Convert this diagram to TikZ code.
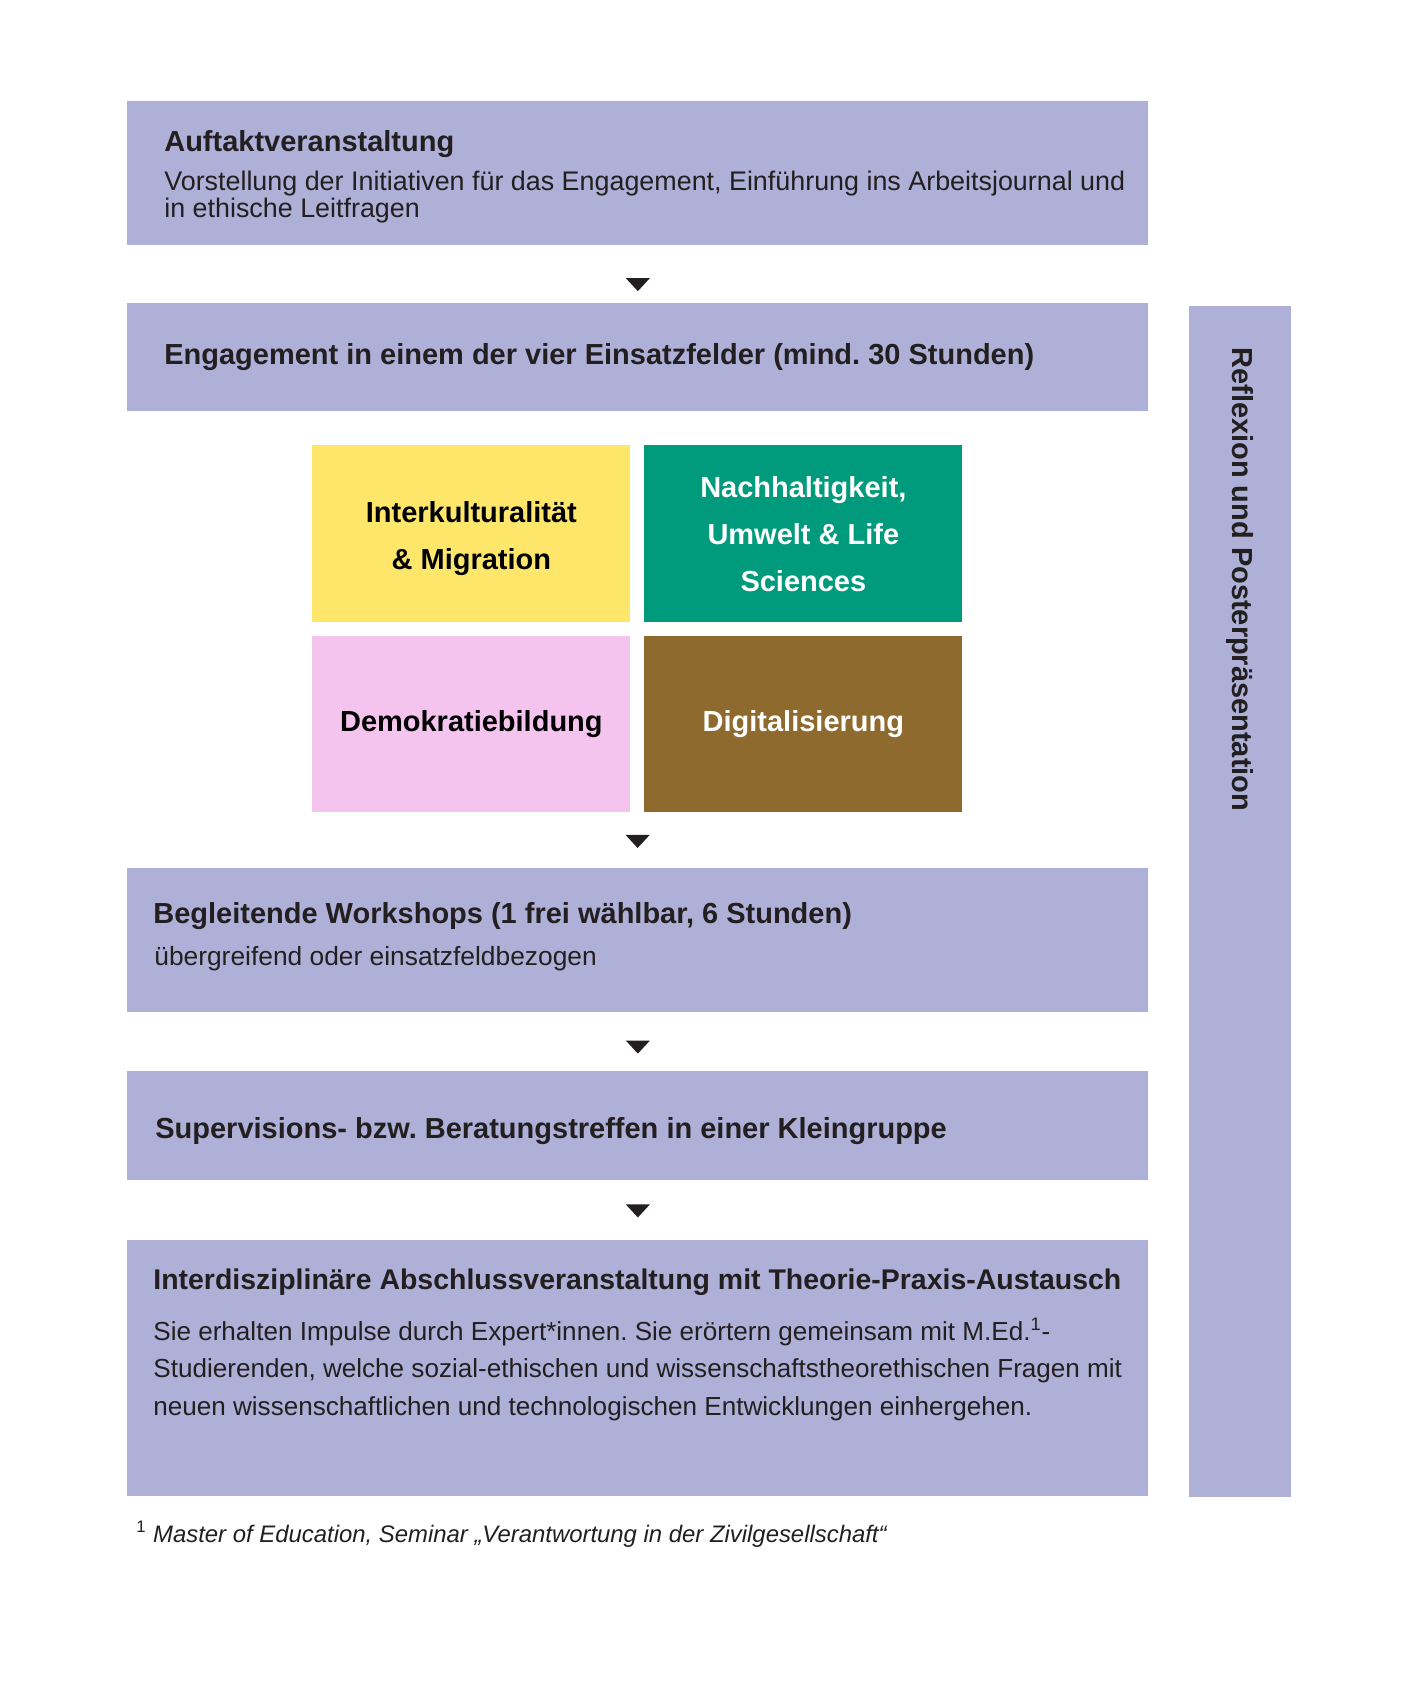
\documentclass[tikz,border=0pt]{standalone}
\usepackage{fontspec}
\setmainfont{Liberation Sans}
\usetikzlibrary{calc}
\frenchspacing

\definecolor{lav}{RGB}{175,176,216}
\definecolor{ink}{RGB}{35,31,32}
\definecolor{gelb}{RGB}{253,230,106}
\definecolor{gruen}{RGB}{0,154,124}
\definecolor{rosa}{RGB}{244,195,238}
\definecolor{braun}{RGB}{142,106,47}

\newcommand{\pxu}{0.02cm}

\begin{document}
\begin{tikzpicture}[x=0.02cm, y=-0.02cm,
    box/.style={anchor=north west, fill=lav, inner sep=0pt, minimum width=1021*\pxu},
    feld/.style={anchor=north west, inner sep=0pt, minimum width=318*\pxu, minimum height=177*\pxu},
    feldtext/.style={align=center, inner sep=0pt, font=\fontsize{16.5}{26.75}\selectfont\bfseries},
    titel/.style={anchor=base west, inner sep=0pt, text=ink, font=\fontsize{16.5}{18}\selectfont\bfseries},
    fliess/.style={anchor=base west, inner sep=0pt, text=ink, align=left}]
  \useasboundingbox (0,0) rectangle (1400,1700);

  % boxes
  \node[box, minimum height=144*\pxu] (auftakt) at (127,101) {};
  \node[box, minimum height=108*\pxu] (engagement) at (127,303) {};
  \node[feld, fill=gelb] (inter) at (312,445) {};
  \node[feld, fill=gruen] (nachhalt) at (644,445) {};
  \node[feld, fill=rosa, minimum height=176*\pxu] (demo) at (312,636) {};
  \node[feld, fill=braun, minimum height=176*\pxu] (digi) at (644,636) {};
  \node[box, minimum height=144*\pxu] (workshops) at (127,868) {};
  \node[box, minimum height=109*\pxu] (supervision) at (127,1071) {};
  \node[box, minimum height=256*\pxu] (abschluss) at (127,1240) {};
  \node[box, minimum width=102*\pxu, minimum height=1191*\pxu] (reflexion) at (1189,306) {};

  % texts (multi-line nodes sit on their last baseline)
  \node[titel] (auftakt-t) at (164,152) {Auftaktveranstaltung};
  \node[fliess, font=\fontsize{15.3}{15.2}\selectfont] (auftakt-b) at (164,217)
    {Vorstellung der Initiativen für das Engagement, Einführung ins Arbeitsjournal und\\in ethische Leitfragen};
  \node[titel] (engagement-t) at (164,364) {Engagement in einem der vier Einsatzfelder (mind. 30 Stunden)};
  \node[feldtext] (inter-t) at ($(inter.center)+(0,5)$) {Interkulturalität\\\& Migration};
  \node[feldtext, text=white] (nachhalt-t) at (nachhalt.center) {Nachhaltigkeit,\\Umwelt \& Life\\Sciences};
  \node[feldtext] (demo-t) at (demo.center) {Demokratiebildung};
  \node[feldtext, text=white] (digi-t) at (digi.center) {Digitalisierung};
  \node[titel] (workshops-t) at (153,923) {Begleitende Workshops (1 frei wählbar, 6 Stunden)};
  \node[fliess, font=\fontsize{15}{16}\selectfont] (workshops-b) at (154,965) {übergreifend oder einsatzfeldbezogen};
  \node[titel] (supervision-t) at (155,1138) {Supervisions- bzw. Beratungstreffen in einer Kleingruppe};
  \node[titel, font=\fontsize{16.2}{18}\selectfont\bfseries] (abschluss-t) at (153,1289) {Interdisziplinäre Abschlussveranstaltung mit Theorie-Praxis-Austausch};
  \node[fliess, font=\fontsize{14.85}{21.3}\selectfont] (abschluss-b) at (153,1415)
    {Sie erhalten Impulse durch Expert*innen. Sie erörtern gemeinsam mit M.Ed.\textsuperscript{1}-\\
     Studierenden, welche sozial-ethischen und wissenschaftstheorethischen Fragen mit\\
     neuen wissenschaftlichen und technologischen Entwicklungen einhergehen.};
  \node[titel, rotate=-90, font=\fontsize{16.5}{18}\selectfont\bfseries] (reflexion-t) at (1232,347) {Reflexion und Posterpräsentation};
  \node[fliess, font=\fontsize{13.6}{16}\selectfont] (fussnote) at (136,1542)
    {\textsuperscript{1} \textit{Master of Education, Seminar „Verantwortung in der Zivilgesellschaft“}};

  % arrows
  \coordinate (feldmitte) at ($(demo.south east)!0.5!(digi.south west)$);
  \path (auftakt.south) -- coordinate[pos=0.68] (pfeil1) (engagement.north);
  \path (feldmitte) -- coordinate[pos=0.52] (pfeil2) (workshops.north);
  \path (workshops.south) -- coordinate[pos=0.59] (pfeil3) (supervision.north);
  \path (supervision.south) -- coordinate[pos=0.51] (pfeil4) (abschluss.north);
  \fill[ink] (pfeil1) ++(-12,-6.5) -- ++(24,0) -- ++(-12,13) -- cycle;
  \fill[ink] (pfeil2) ++(-12,-6.5) -- ++(24,0) -- ++(-12,13) -- cycle;
  \fill[ink] (pfeil3) ++(-12,-6.5) -- ++(24,0) -- ++(-12,13) -- cycle;
  \fill[ink] (pfeil4) ++(-12,-6.5) -- ++(24,0) -- ++(-12,13) -- cycle;
\end{tikzpicture}
\end{document}
